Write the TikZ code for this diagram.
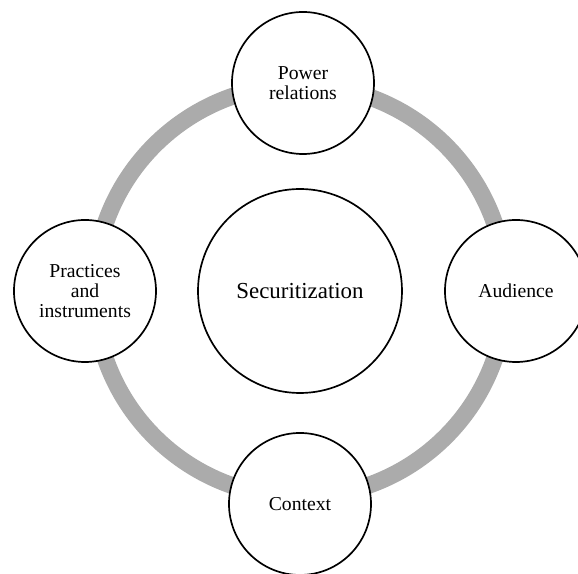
\documentclass[tikz,border=0pt]{standalone}
\usepackage{fontspec}
\setmainfont{Liberation Serif}
\tikzset{
  ring/.style={draw=black!33, line width=0.425cm},
  factor/.style={shape=circle, draw, fill=white, line width=1.2pt, inner sep=0, minimum size=3.55cm, align=center, font=\fontsize{14}{14.5}\selectfont},
  hub/.style={shape=circle, draw, fill=white, line width=1.2pt, inner sep=0, minimum size=5.1cm, align=center, font=\fontsize{16.3}{18}\selectfont}
}
\begin{document}
\begin{tikzpicture}
        \useasboundingbox (-7.5, -7.075) rectangle (6.95, 7.275);
        % Paths, nodes and wires:
        \coordinate (ringcentre) at (0, 0);
        \draw[ring] (ringcentre) circle[radius=5.15cm];
        \node[hub] (securitization) at (0, 0){Securitization};
        \node[factor] (power) at (0.075, 5.2){Power\\relations};
        \node[factor] (audience) at (5.4, 0){Audience};
        \node[factor] (context) at (0, -5.325){Context};
        \node[factor] (practices) at (-5.375, 0){Practices\\and\\instruments};
      \end{tikzpicture}
\end{document}
